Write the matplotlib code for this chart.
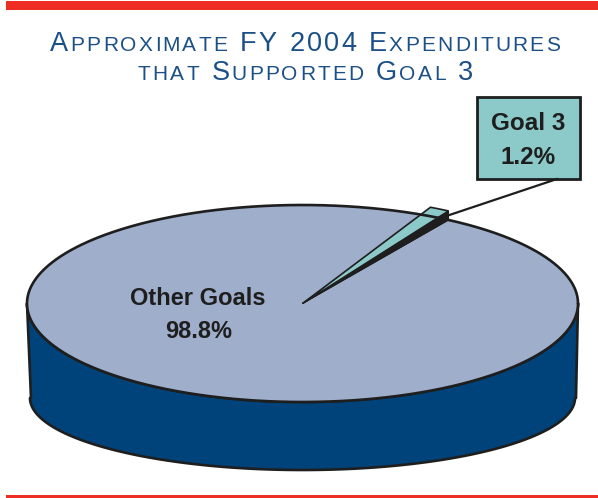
import numpy as np
import matplotlib
matplotlib.use("Agg")
import matplotlib.pyplot as plt
from matplotlib.patches import Polygon, Rectangle

# --- data ---------------------------------------------------------------
labels = ["Other Goals", "Goal 3"]
shares = [98.8, 1.2]            # percent of FY 2004 expenditures
title_line1 = [("A", "big"), ("PPROXIMATE", "small"), (" ", "big"), ("FY 2004", "big"),
               (" ", "big"), ("E", "big"), ("XPENDITURES", "small")]
title_line2 = [("THAT", "small"), (" ", "big"), ("S", "big"), ("UPPORTED", "small"),
               (" ", "big"), ("G", "big"), ("OAL", "small"), (" ", "big"), ("3", "big")]

# --- style --------------------------------------------------------------
RED = "#ee2e24"
TITLE_BLUE = "#1b4f86"
TOP_FACE = "#9eaecb"
SIDE_FACE = "#00437a"
TEAL = "#8ccaca"
EDGE = "#1e1e1e"
FONT = "Liberation Sans"

W, H = 598, 498
fig = plt.figure(figsize=(W / 100, H / 100), dpi=100)
ax = fig.add_axes([0, 0, 1, 1])
ax.set_xlim(0, W)
ax.set_ylim(H, 0)
ax.axis("off")

# red rules top and bottom
ax.add_patch(Rectangle((6, 1), W - 6, 8.5, color=RED, lw=0))
ax.add_patch(Rectangle((6, 494.5), W - 6, 6, color=RED, lw=0))

# --- letter-spaced small-caps title --------------------------------------
renderer = fig.canvas.get_renderer()
SIZES = {"big": 19.5, "small": 15.0}


def tracked_line(pieces, y, cx, tracking):
    chars = []
    for text, kind in pieces:
        for ch in text:
            chars.append((ch, SIZES[kind]))
    widths = []
    artists = []
    for ch, size in chars:
        if ch == " ":
            widths.append(size * 0.42)
            artists.append(None)
            continue
        t = ax.text(0, y, ch, fontsize=size, family=FONT, color=TITLE_BLUE,
                    ha="left", va="baseline")
        bb = t.get_window_extent(renderer=renderer)
        widths.append(bb.width)
        artists.append(t)
    total = sum(widths) + tracking * (len(chars) - 1)
    x = cx - total / 2
    for w, t in zip(widths, artists):
        if t is not None:
            t.set_x(x)
        x += w + tracking


tracked_line(title_line1, 51, 305, 2.2)
tracked_line(title_line2, 80, 305.5, 2.2)

# --- 3-D pie geometry ---------------------------------------------------
cx, cy = 302.5, 303.5     # centre of the top face
a, b = 275.5, 98.5        # semi-axes of the top face
by, ba, bb_ = 398.0, 272.5, 72.0   # lower rim of the side wall
lift = 9.0                # the Goal 3 slice is raised a little


def rim(theta_deg, r=1.0, dy=0.0):
    t = np.radians(theta_deg)
    return cx + a * r * np.cos(t), cy - b * r * np.sin(t) - dy


# side wall of the pie
t_front = np.linspace(180, 360, 200)
top_front = np.column_stack(rim(t_front))
t_back = np.linspace(0, 180, 200)
bottom = np.column_stack([cx + ba * np.cos(np.radians(t_back)),
                          by + bb_ * np.sin(np.radians(t_back))])
side = np.vstack([top_front, [[cx + a - 2, by]], bottom, [[cx - a + 4, by]]])
ax.add_patch(Polygon(side, closed=True, fc=SIDE_FACE, ec=EDGE, lw=1.9, joinstyle="round"))

# top face angles derived from the shares
start = 58.0
spans = [s / sum(shares) * 360 for s in shares]
g3_a, g3_b = start, start + spans[1]

# "Other Goals" slice takes the rest of the top face
t_other = np.linspace(g3_b, g3_a + 360, 600)
ox, oy = rim(t_other)
other = np.vstack([[[cx, cy]], np.column_stack([ox, oy])])
ax.add_patch(Polygon(other, closed=True, fc=TOP_FACE, ec="none"))
# outline of the full top ellipse
tt = np.linspace(0, 360, 720)
ex, ey = rim(tt)
ax.plot(ex, ey, color=EDGE, lw=1.9, solid_capstyle="round")

# footprint and wall of the raised "Goal 3" slice
t_g3 = np.linspace(g3_a, g3_b, 20)
fx, fy = rim(t_g3)
ax.add_patch(Polygon(np.vstack([[[cx, cy]], np.column_stack([fx, fy])]),
                     closed=True, fc=EDGE, ec=EDGE, lw=0.8))
p_flat = rim(g3_a)
p_up = rim(g3_a, dy=lift)
ax.add_patch(Polygon([[cx, cy], p_up, p_flat], closed=True, fc=EDGE, ec=EDGE, lw=0.8))
ux, uy = rim(t_g3, dy=lift)
ax.add_patch(Polygon(np.vstack([[[cx, cy]], np.column_stack([ux, uy])]),
                     closed=True, fc=TEAL, ec=EDGE, lw=1.2, joinstyle="miter"))

# --- labels ---------------------------------------------------------------
ax.text(197.5, 305, labels[0], fontsize=17, family=FONT, weight="bold",
        color=EDGE, ha="center", va="baseline")
ax.text(199, 338, f"{shares[0]:.1f}%", fontsize=17, family=FONT, weight="bold",
        color=EDGE, ha="center", va="baseline")

box_x0, box_y0, box_x1, box_y1 = 477, 97, 580, 179
ax.add_patch(Rectangle((box_x0, box_y0), box_x1 - box_x0, box_y1 - box_y0,
                       fc=TEAL, ec=EDGE, lw=2.0))
ax.text(528, 130, labels[1], fontsize=17.5, family=FONT, weight="bold",
        color=EDGE, ha="center", va="baseline")
ax.text(528, 164, f"{shares[1]:.1f}%", fontsize=17.5, family=FONT, weight="bold",
        color=EDGE, ha="center", va="baseline")

# leader from the label box to the raised slice
ax.plot([557, p_flat[0] + 1], [box_y1, p_flat[1] - 5], color=EDGE, lw=1.6)

fig.savefig("out.png", dpi=100)
